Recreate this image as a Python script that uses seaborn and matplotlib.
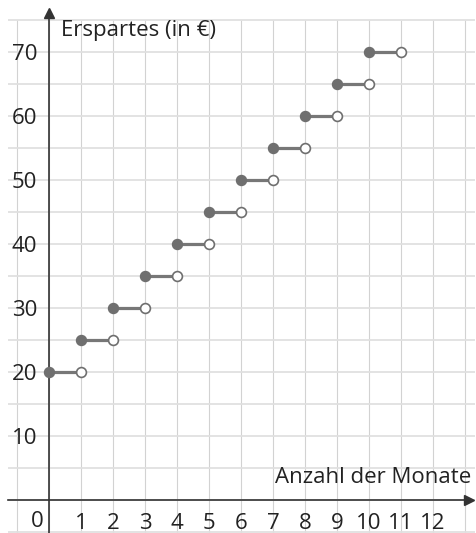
import matplotlib
matplotlib.use("Agg")
import matplotlib.pyplot as plt
import pandas as pd
import seaborn as sns

# step function: savings per month interval
month_start = [0, 1, 2, 3, 4, 5, 6, 7, 8, 9, 10]
month_end = [1, 2, 3, 4, 5, 6, 7, 8, 9, 10, 11]
savings = [20, 25, 30, 35, 40, 45, 50, 55, 60, 65, 70]

x_ticks = [1, 2, 3, 4, 5, 6, 7, 8, 9, 10, 11, 12]
y_major = [10, 20, 30, 40, 50, 60, 70]
y_minor = [5, 15, 25, 35, 45, 55, 65]

sns.set_theme(style="white")
plt.rcParams["font.family"] = ["Open Sans", "DejaVu Sans"]

seg = pd.DataFrame({
    "segment": list(range(len(savings))) * 2,
    "month": month_start + month_end,
    "savings": savings + savings,
})
starts = pd.DataFrame({"month": month_start, "savings": savings})
ends = pd.DataFrame({"month": month_end, "savings": savings})

fig = plt.figure(figsize=(4.76, 5.33), dpi=100)
ax = fig.add_axes([0, 0, 1, 1])
ax.set_xlim(-1.53, 13.34)
ax.set_ylim(-5.16, 78.1)

# background grid
ax.vlines(range(-1, 14), -5.3, 75, color="#d2d2d2", lw=0.8, zorder=0)
ax.hlines(range(-5, 80, 5), -1.28, 13.3, color="#e0e0e0", lw=1.3, zorder=0)

line_col = "#777777"
sns.lineplot(data=seg, x="month", y="savings", units="segment", estimator=None,
             color=line_col, lw=2.3, ax=ax, zorder=3, legend=False)
sns.scatterplot(data=starts, x="month", y="savings", color="#6f6f6f", s=52,
                edgecolor="#6f6f6f", linewidth=1.0, ax=ax, zorder=4)
sns.scatterplot(data=ends, x="month", y="savings", color="white", s=50,
                edgecolor="#6f6f6f", linewidth=1.2, ax=ax, zorder=4)

# axes through the origin
axis_col = "#333333"
for side in ["top", "right"]:
    ax.spines[side].set_visible(False)
ax.spines["left"].set_position(("data", 0))
ax.spines["bottom"].set_position(("data", 0))
ax.spines["left"].set_bounds(-5.2, 75.5)
ax.spines["bottom"].set_bounds(-1.28, 13.0)
for side in ["left", "bottom"]:
    ax.spines[side].set_color(axis_col)
    ax.spines[side].set_linewidth(1.2)
    ax.spines[side].set_zorder(2)
ax.plot(13.12, 0, marker=">", color=axis_col, ms=7, clip_on=False, zorder=2)
ax.plot(0, 76.0, marker="^", color=axis_col, ms=7, clip_on=False, zorder=2)

ax.set_xticks(x_ticks)
ax.set_yticks(y_major)
ax.set_yticks(y_minor, minor=True)
ax.tick_params(axis="both", which="both", direction="inout", length=9,
               width=1.1, color=axis_col, labelsize=16, labelcolor="#222222")
ax.tick_params(axis="y", which="minor", labelleft=False)
ax.tick_params(axis="y", pad=4)
ax.tick_params(axis="x", pad=5)
ax.set_xlabel("")
ax.set_ylabel("")

ax.text(-0.37, -3.4, "0", fontsize=16, color="#222222", ha="center", va="center")
ax.text(0.38, 73.4, "Erspartes (in €)", fontsize=16, color="#222222",
        ha="left", va="center")
ax.text(13.2, 3.5, "Anzahl der Monate", fontsize=16, color="#222222",
        ha="right", va="center")

fig.savefig("out.png", dpi=100)
